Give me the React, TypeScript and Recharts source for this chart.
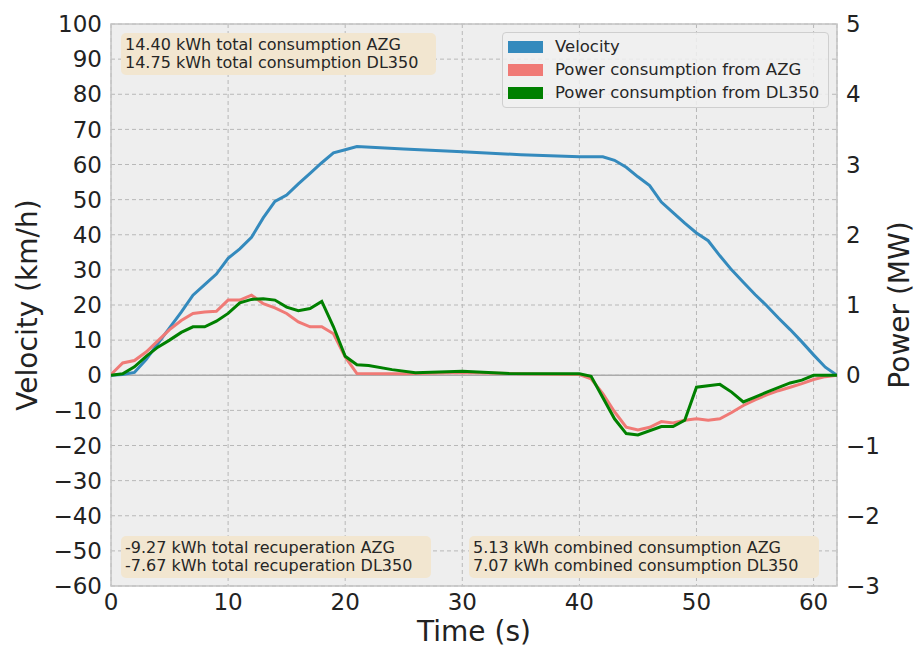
import { LineChart, Line, XAxis, YAxis, CartesianGrid, ReferenceLine, ReferenceArea, Label } from 'recharts'

// velocity in km/h
const velTime = [0, 1, 2, 3, 4, 5, 6, 7, 8, 9, 10, 11, 12, 13, 14, 15, 16, 17, 18, 19, 20, 21, 25, 30, 35, 40, 42, 43, 44, 45, 46, 47, 48, 49, 50, 51, 52, 53, 54, 55, 56, 57, 58, 59, 60, 61, 62]
const velValues = [0, 0.2, 0.8, 4.5, 9, 13.5, 18, 22.8, 25.8, 28.8, 33.3, 36, 39.3, 44.8, 49.5, 51.3, 54.5, 57.5, 60.5, 63.3, 64.2, 65.1, 64.4, 63.6, 62.8, 62.2, 62.2, 61.2, 59.2, 56.5, 54, 49.3, 46.3, 43.3, 40.5, 38.3, 34, 30, 26.5, 23, 19.8, 16.3, 13, 9.5, 5.8, 2.3, 0]

// power in MW
const azgTime = [0, 1, 2, 3, 4, 5, 6, 7, 8, 9, 10, 11, 12, 13, 14, 15, 16, 17, 18, 19, 20, 21, 25, 30, 35, 40, 41, 42, 43, 44, 45, 46, 47, 48, 49, 50, 51, 52, 53, 54, 55, 56, 57, 58, 59, 60, 61, 62]
const azgValues = [0.01, 0.175, 0.21, 0.33, 0.49, 0.65, 0.78, 0.88, 0.9, 0.91, 1.07, 1.07, 1.14, 1.02, 0.96, 0.88, 0.76, 0.69, 0.69, 0.59, 0.26, 0.025, 0.02, 0.04, 0.02, 0.01, -0.05, -0.26, -0.52, -0.74, -0.78, -0.74, -0.66, -0.68, -0.64, -0.62, -0.64, -0.62, -0.53, -0.43, -0.35, -0.28, -0.22, -0.17, -0.12, -0.06, -0.02, 0]

const dlTime = [0, 1, 2, 3, 4, 5, 6, 7, 8, 9, 10, 11, 12, 13, 14, 15, 16, 17, 18, 19, 20, 21, 22, 24, 26, 30, 34, 40, 41, 43, 44, 45, 47, 48, 49, 50, 52, 53, 54, 55, 56, 58, 59, 60, 62]
const dlValues = [0, 0.02, 0.12, 0.27, 0.4, 0.5, 0.61, 0.69, 0.69, 0.77, 0.88, 1.03, 1.08, 1.09, 1.07, 0.97, 0.92, 0.95, 1.05, 0.69, 0.27, 0.15, 0.14, 0.08, 0.035, 0.057, 0.025, 0.02, -0.015, -0.62, -0.83, -0.85, -0.73, -0.73, -0.64, -0.17, -0.13, -0.24, -0.38, -0.31, -0.24, -0.11, -0.07, 0, 0]

const xTicks = [0, 10, 20, 30, 40, 50, 60]
const velTicks = [-60, -50, -40, -30, -20, -10, 0, 10, 20, 30, 40, 50, 60, 70, 80, 90, 100]
const powerTicks = [-3, -2, -1, 0, 1, 2, 3, 4, 5]

const legendItems = [
  { label: 'Velocity', color: '#348ABD' },
  { label: 'Power consumption from AZG', color: '#F07A76' },
  { label: 'Power consumption from DL350', color: '#008000' },
]

const boxTopLeft = ['14.40 kWh total consumption AZG', '14.75 kWh total consumption DL350']
const boxBottomLeft = ['-9.27 kWh total recuperation AZG', '-7.67 kWh total recuperation DL350']
const boxBottomRight = ['5.13 kWh combined consumption AZG', '7.07 kWh combined consumption DL350']

const velData = velTime.map((t, i) => ({ t, v: velValues[i] }))
const azgData = azgTime.map((t, i) => ({ t, p: azgValues[i] }))
const dlData = dlTime.map((t, i) => ({ t, p: dlValues[i] }))

const FONT = '"DejaVu Sans", sans-serif'
const minus = (v: number) => String(v).replace('-', '\u2212')

function TextBox({ lines, left, top, width }: { lines: string[]; left: number; top: number; width: number }) {
  return (
    <div
      style={{
        position: 'absolute', left, top, width, height: 42, boxSizing: 'border-box',
        background: '#F2E6D0', borderRadius: 5, padding: '3px 0 0 4px',
        fontFamily: FONT, fontSize: 16, lineHeight: '18px', color: '#262626', whiteSpace: 'nowrap',
      }}
    >
      {lines.map((l) => <div key={l}>{l}</div>)}
    </div>
  )
}

export default function App() {
  return (
    <div style={{ position: 'relative', width: 917, height: 649, background: '#fff', overflow: 'hidden' }}>
      <style>{'body{margin:0}'}</style>
      <LineChart width={917} height={649} margin={{ top: 24, right: 0, bottom: 0, left: 0 }} style={{ fontFamily: FONT }}>
        <CartesianGrid yAxisId="left" fill="#EEEEEE" stroke="#B8B8B8" strokeDasharray="4 3" strokeWidth={1} />
        <XAxis
          type="number" dataKey="t" domain={[0, 62]} ticks={xTicks} allowDataOverflow
          tickLine={false} axisLine={false} tickSize={0} tickMargin={8} height={63}
          tick={{ fontSize: 23, fill: '#222' }}
        >
          <Label content={() => <text x={474} y={641} textAnchor="middle" fontSize={28} fill="#222" fontFamily={FONT}>Time (s)</text>} />
        </XAxis>
        <YAxis
          yAxisId="left" domain={[-60, 100]} ticks={velTicks} interval={0} width={111}
          tickLine={false} axisLine={false} tickSize={0} tickMargin={9} tickFormatter={minus}
          tick={{ fontSize: 23, fill: '#222' }}
        >
          <Label content={() => <text x={37} y={305} transform="rotate(-90 37 305)" textAnchor="middle" fontSize={28} fill="#222" fontFamily={FONT}>Velocity (km/h)</text>} />
        </YAxis>
        <YAxis
          yAxisId="right" orientation="right" domain={[-3, 5]} ticks={powerTicks} interval={0} width={80}
          tickLine={false} axisLine={false} tickSize={0} tickMargin={9} tickFormatter={minus}
          tick={{ fontSize: 23, fill: '#222' }}
        >
          <Label content={() => <text x={909} y={305} transform="rotate(-90 909 305)" textAnchor="middle" fontSize={28} fill="#222" fontFamily={FONT}>Power (MW)</text>} />
        </YAxis>
        <ReferenceLine yAxisId="left" y={0} stroke="#ABABAB" strokeWidth={1.5} />
        <Line yAxisId="left" data={velData} dataKey="v" type="linear" stroke="#348ABD" strokeWidth={3} dot={false} isAnimationActive={false} />
        <Line yAxisId="right" data={azgData} dataKey="p" type="linear" stroke="#F07A76" strokeWidth={3} dot={false} isAnimationActive={false} />
        <Line yAxisId="right" data={dlData} dataKey="p" type="linear" stroke="#008000" strokeWidth={3} dot={false} isAnimationActive={false} />
        <ReferenceArea yAxisId="left" x1={0} x2={62} y1={-60} y2={100} fill="none" stroke="#C4C4C4" strokeWidth={1.5} ifOverflow="visible" />
      </LineChart>

      <div
        style={{
          position: 'absolute', left: 502, top: 32, width: 327, height: 76, boxSizing: 'border-box',
          background: 'rgba(240,240,240,0.85)', border: '1px solid #CFCFCF', borderRadius: 4,
          fontFamily: FONT, fontSize: 16.5, color: '#262626',
        }}
      >
        {legendItems.map((it, i) => (
          <div key={it.label} style={{ position: 'absolute', left: 5, top: 2 + i * 23, height: 23, display: 'flex', alignItems: 'center', whiteSpace: 'nowrap' }}>
            <span style={{ display: 'inline-block', width: 35, height: 12, background: it.color, marginRight: 12 }} />
            {it.label}
          </div>
        ))}
      </div>

      <TextBox lines={boxTopLeft} left={121} top={33} width={315} />
      <TextBox lines={boxBottomLeft} left={121} top={536} width={310} />
      <TextBox lines={boxBottomRight} left={469} top={536} width={350} />
    </div>
  )
}
